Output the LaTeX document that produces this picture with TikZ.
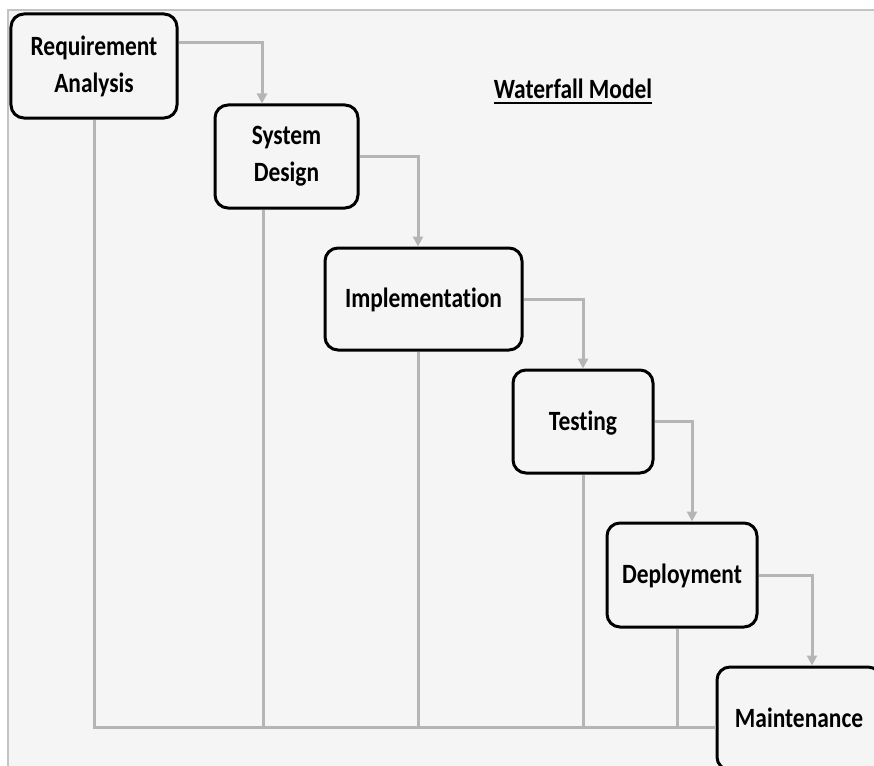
\documentclass[tikz,border=0pt]{standalone}
\usepackage{fontspec}
\setmainfont{Carlito}
\newfontfamily\phasefont{Carlito}[FakeStretch=0.84, Ligatures=NoCommon]
\usetikzlibrary{arrows.meta}
\definecolor{bgcol}{HTML}{F5F5F5}
\definecolor{framecol}{HTML}{C4C4C4}
\definecolor{linecol}{HTML}{B5B5B5}
\tikzset{
  phase/.style={draw=black, line width=3bp, rounded corners=13bp, fill=bgcol,
    align=center, inner sep=0pt, font=\phasefont\fontsize{28}{37}\selectfont\bfseries},
  oneline/.style={text height=23bp, text depth=6bp},
  flow/.style={draw=linecol, line width=3bp,
    -{Triangle[length=10bp,width=10bp]}},
  fb/.style={draw=linecol, line width=3bp},
  titletext/.style={inner sep=0pt, font=\phasefont\fontsize{28}{32}\selectfont\bfseries}
}
\begin{document}
\begin{tikzpicture}[x=1bp,y=-1bp]
\useasboundingbox (0,0) rectangle (874,766);
\clip (0,0) rectangle (874,766);
\fill[white] (0,0) rectangle (874,766);
\fill[bgcol] (8,10) rectangle (874,766);
\draw[framecol, line width=2bp] (8,766) -- (8,10) -- (874,10);

% bus for feedback
\coordinate (bus) at (0,727);

% phases
\node[phase, minimum width=166bp, minimum height=104bp] (ra) at (94,66) {Requirement\\Analysis};
\node[phase, minimum width=143bp, minimum height=103bp] (sd) at (286.5,156.5) {System\\Design};
\node[phase, oneline, minimum width=197bp, minimum height=102bp] (im) at (423.5,299) {Implementation};
\node[phase, oneline, minimum width=140bp, minimum height=103bp] (te) at (583,421.5) {Testing};
\node[phase, oneline, minimum width=150bp, minimum height=104bp] (de) at (682,575) {Deployment};
\node[phase, oneline, minimum width=164bp, minimum height=103bp] (ma) at (799,718.5) {Maintenance};

% title
\node[titletext, anchor=base] (title) at (573,98) {Waterfall Model};
\draw[black, line width=2bp] ([yshift=-5bp]title.base west) -- ([yshift=-5bp]title.base east);

% forward flow
\draw[flow] ([yshift=23bp]ra.east) -| ([xshift=-24.5bp]sd.north);
\draw[flow] (sd.east) -| ([xshift=-5.5bp]im.north);
\draw[flow] (im.east) -| (te.north);
\draw[flow] (te.east) -| ([xshift=10bp]de.north);
\draw[flow] (de.east) -| ([xshift=13bp]ma.north);

% feedback lines
\draw[fb] (ra.south) -- (ra.south |- bus);
\draw[fb] ([xshift=-23.5bp]sd.south) -- ([xshift=-23.5bp]sd.south |- bus);
\draw[fb] ([xshift=-5.5bp]im.south) -- ([xshift=-5.5bp]im.south |- bus);
\draw[fb] (te.south) -- (te.south |- bus);
\draw[fb] ([xshift=-5bp]de.south) -- ([xshift=-5bp]de.south |- bus);
\draw[fb] ([xshift=-1.5bp]ra.south |- bus) -- (ma.west |- bus);
\end{tikzpicture}
\end{document}
